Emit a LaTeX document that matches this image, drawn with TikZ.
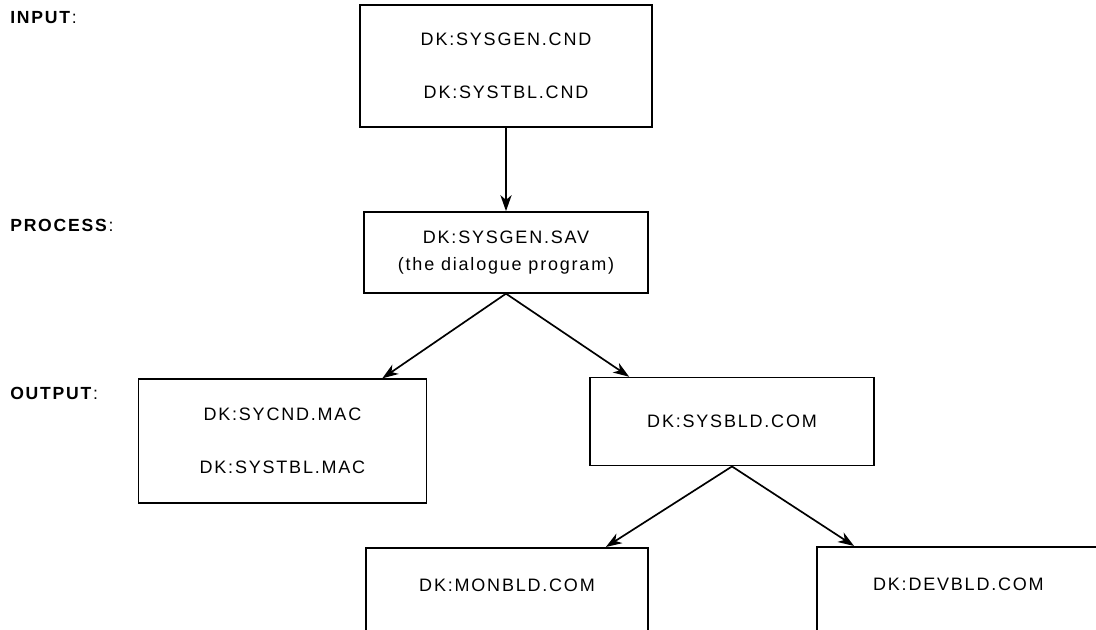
\documentclass[tikz,border=0pt]{standalone}
\usepackage{fontspec}
\setmainfont{Liberation Sans}[LetterSpace=10]
\usetikzlibrary{arrows.meta}

\begin{document}
\begin{tikzpicture}[
		filebox/.style={draw, rectangle, line width=1.2pt, inner sep=0pt, align=center, font=\fontsize{12.8}{37.7}\selectfont},
		tag/.style={anchor=west, inner sep=0pt, font=\fontsize{12.5}{15}\selectfont},
		flow/.style={-{Stealth[length=4mm, width=2.8mm, inset=1.2mm]}, line width=1.2pt}]
				\clip (0, 0) rectangle (27.4, -15.725);
				% stage labels
				\node[tag] (input)at(0.25, -0.43) {\textbf{INPUT}:};
				\node[tag] (process)at(0.25, -5.63) {\textbf{PROCESS}:};
				\node[tag] (output)at(0.25, -9.83) {\textbf{OUTPUT}:};
				% files
				\node[filebox, minimum width=7.3cm, minimum height=3.05cm] (cnd)at(12.65, -1.65) {DK:SYSGEN.CND\\DK:SYSTBL.CND};
				\node[filebox, minimum width=7.1cm, minimum height=2.02cm, font=\fontsize{12.8}{19.2}\selectfont] (sav)at(12.65, -6.31) {DK:SYSGEN.SAV\\(the dialogue program)};
				\node[filebox, minimum width=7.2cm, minimum height=3.1cm] (mac)at(7.06, -11.03) {DK:SYCND.MAC\\DK:SYSTBL.MAC};
				\node[filebox, minimum width=7.1cm, minimum height=2.2cm] (bld)at(18.3, -10.54) {DK:SYSBLD.COM};
				\node[filebox, minimum width=7.05cm, anchor=north, text height=1.1cm, text depth=1.3cm] (mon)at(12.675, -13.675) {DK:MONBLD.COM};
				\node[filebox, minimum width=7.075cm, anchor=north, text height=1.1cm, text depth=1.3cm] (dev)at(23.96, -13.65) {DK:DEVBLD.COM};
				% flow
				\draw[flow] (cnd) -- (sav);
				\draw[flow] (sav.south) -- ([xshift=-1.125cm]mac.north east);
				\draw[flow] (sav.south) -- ([xshift=1cm]bld.north west);
				\draw[flow] (bld.south) -- ([xshift=-1.075cm]mon.north east);
				\draw[flow] (bld.south) -- ([xshift=0.95cm]dev.north west);
			\end{tikzpicture}
\end{document}
